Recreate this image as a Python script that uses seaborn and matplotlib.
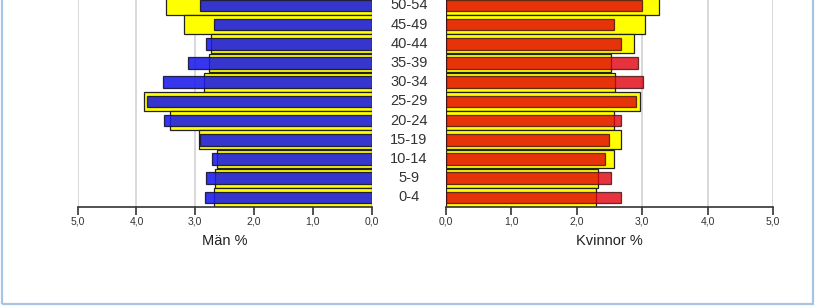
import matplotlib
matplotlib.use("Agg")
import matplotlib.pyplot as plt
import matplotlib.transforms as mtransforms
from matplotlib.patches import Rectangle
import seaborn as sns
import pandas as pd

# ---- data ----
ages = ['0-4', '5-9', '10-14', '15-19', '20-24', '25-29', '30-34',
        '35-39', '40-44', '45-49', '50-54']
men_local = [2.83, 2.82, 2.72, 2.92, 3.53, 3.82, 3.55, 3.12, 2.82, 2.69, 2.92]
men_ref = [2.68, 2.66, 2.63, 2.93, 3.43, 3.88, 2.86, 2.77, 2.74, 3.19, 3.50]
women_local = [2.67, 2.53, 2.43, 2.49, 2.68, 2.91, 3.01, 2.93, 2.68, 2.57, 2.99]
women_ref = [2.29, 2.33, 2.57, 2.67, 2.57, 2.97, 2.59, 2.52, 2.87, 3.05, 3.26]
tick_values = [0, 1, 2, 3, 4, 5]
tick_labels = ['0,0', '1,0', '2,0', '3,0', '4,0', '5,0']
left_title = 'Män %'
right_title = 'Kvinnor %'

df = pd.DataFrame({'age': ages, 'men_local': men_local, 'men_ref': men_ref,
                   'women_local': women_local, 'women_ref': women_ref})
order = ages[::-1]  # youngest at bottom

sns.set_theme(style='white')
plt.rcParams['font.family'] = ['Liberation Sans', 'DejaVu Sans']

W, H = 816, 306
fig = plt.figure(figsize=(W / 100, H / 100), dpi=100)
fig.patch.set_facecolor('white')

ax_bottom_px = 207
row_px = 19.2
ax_h_px = 11 * row_px
bottom = (H - ax_bottom_px) / H
height = ax_h_px / H
axL = fig.add_axes([77.7 / W, bottom, 294 / W, height])
axR = fig.add_axes([446 / W, bottom, 327 / W, height])

yellow = '#FFFF00'
blue = (0.10, 0.10, 0.93)
red = (0.886, 0.0, 0.05)
edge = '#222222'

for ax, ref_col, loc_col, col, alpha, title in [
        (axL, 'men_ref', 'men_local', blue, 0.88, left_title),
        (axR, 'women_ref', 'women_local', red, 0.8, right_title)]:
    ax.set_facecolor('white')
    sns.barplot(data=df, x=ref_col, y='age', order=order, orient='y',
                color=yellow, saturation=1, width=0.97,
                edgecolor=edge, linewidth=0.9, ax=ax, zorder=2)
    sns.barplot(data=df, x=loc_col, y='age', order=order, orient='y',
                color=col, saturation=1, width=0.6, alpha=alpha,
                edgecolor='#101030' if ax is axL else '#401010',
                linewidth=0.9, ax=ax, zorder=3)
    ax.set_ylim(10.5, -0.5)
    ax.set_yticks([])
    ax.set_ylabel('')
    ax.set_xticks(tick_values)
    ax.set_xticklabels(tick_labels, fontsize=7.5, color='#333333')
    ax.grid(axis='x', color='#D6D6D6', linewidth=1.3, zorder=0)
    ax.grid(axis='y', visible=False)
    ax.set_axisbelow(True)
    for s in ['top', 'left', 'right']:
        ax.spines[s].set_visible(False)
    ax.spines['bottom'].set_color('#333333')
    ax.spines['bottom'].set_linewidth(1.2)
    ax.tick_params(axis='x', bottom=True, length=5.5, width=1.2,
                   color='#333333', pad=1.5)
    ax.set_xlabel(title, fontsize=10.5, color='#222222')
    ax.xaxis.set_label_coords(0.5, -0.13)

axL.set_xlim(5, 0)
axR.set_xlim(0, 5)

# age labels centered between the two panels
trans = mtransforms.blended_transform_factory(fig.transFigure, axR.transData)
for i, a in enumerate(order):
    axR.text(409 / W, i, a, transform=trans, ha='center', va='center',
             fontsize=10.5, color='#333333', clip_on=False)

# outer chart border
fig.patches.append(Rectangle((2 / W, 2 / H), (W - 5) / W, 1.2,
                             transform=fig.transFigure, fill=False,
                             edgecolor='#A8C4E4', linewidth=1.6))

fig.savefig('out.png', dpi=100)
